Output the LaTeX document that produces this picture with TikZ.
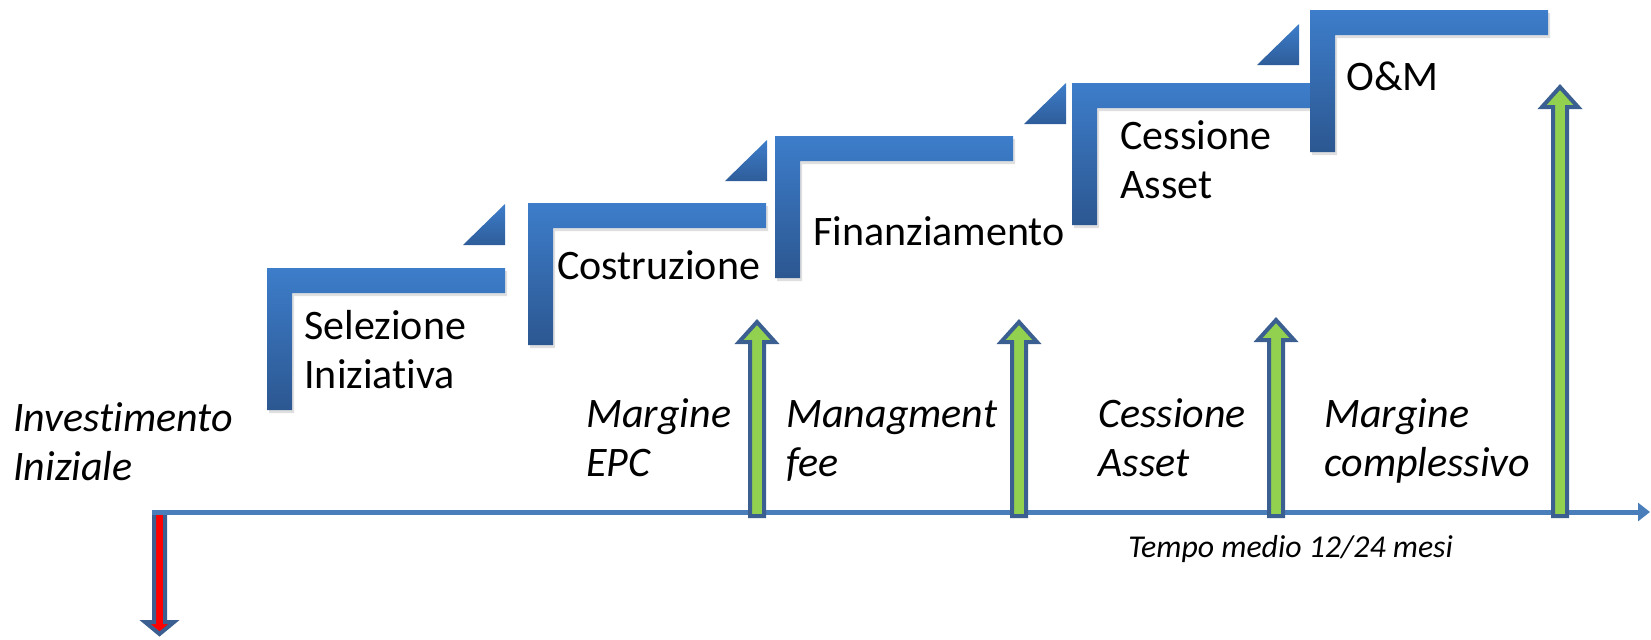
\documentclass[tikz,border=0pt]{standalone}
\usepackage{fontspec}
\setmainfont{Carlito}[Ligatures={NoCommon}]
\usetikzlibrary{arrows.meta,shadows}

\definecolor{barlight}{HTML}{3D7DCA}
\definecolor{bardark}{HTML}{2C5791}
\definecolor{axisblue}{HTML}{4A7EBB}
\definecolor{rimblue}{HTML}{3B5F90}
\definecolor{gaingreen}{HTML}{92D050}

\tikzset{
  stepbar/.style={top color=barlight, bottom color=bardark,
    drop shadow={opacity=0.25, shadow xshift=1pt, shadow yshift=-1.5pt}},
  stepflag/.style={top color=barlight, bottom color=bardark!85!barlight},
  timeaxis/.style={draw=axisblue, line width=2.5pt, -{Triangle[width=9pt,length=6pt]}},
  gainarrow/.style={draw=rimblue, fill=gaingreen, line width=2pt},
  lossarrow/.style={draw=rimblue, fill=red, line width=2pt},
  phase/.style={font=\fontsize{21}{24.5}\selectfont, align=left, anchor=base west, inner sep=0pt},
  cashflow/.style={phase, font=\fontsize{21}{24.5}\selectfont\itshape},
}

\begin{document}
\begin{tikzpicture}[x=0.5pt, y=-0.5pt]

	\useasboundingbox (0,0) rectangle (1651,639);

	% steps (left x, top y)
	\foreach \x/\y in {267/268, 528/203, 775/136, 1072/83, 1310/10}
	\path[stepbar] (\x,\y) -- ++(238,0) -- ++(0,25) -- ++(-213,0)
		-- ++(0,117) -- ++(-25,0) -- cycle;

	% small triangles (right x, bottom y)
	\foreach \x/\y in {505/245, 767/181, 1066/124, 1299/65}
	\path[stepflag] (\x,\y) -- ++(-42,0) -- ++(42,-41) -- cycle;

	% phase labels (base = last line)
	\node[phase] (sel) at (304,388) {Selezione\\Iniziativa};
	\node[phase] (cos) at (557,279) {Costruzione};
	\node[phase] (fin) at (813,245) {Finanziamento};
	\node[phase] (ces) at (1120,198) {Cessione\\Asset};
	\node[phase] (om)  at (1346,90)  {O\&M};

	% cash flow labels
	\node[cashflow] (inv)   at (13,480)   {Investimento\\Iniziale};
	\node[cashflow] (epc)   at (586,476)  {Margine\\EPC};
	\node[cashflow] (fee)   at (786,476)  {Managment\\fee};
	\node[cashflow] (asset) at (1098,476) {Cessione\\Asset};
	\node[cashflow] (tot)   at (1324,476) {Margine\\complessivo};
	\node[cashflow, font=\fontsize{15.9}{18}\selectfont\itshape] (tempo)
		at (1128,557) {Tempo medio 12/24 mesi};

	% initial investment (down)
	\path[lossarrow] (154,512) -- (154,622) -- (145,622) -- (159.5,634)
		-- (174,622) -- (165,622) -- (165,512) -- cycle;

	% time axis
	\coordinate (origin)  at (152,512);
	\coordinate (horizon) at (1650,512);
	\draw[timeaxis] (origin) -- (horizon);

	% returns (centre x, tip y)
	\foreach \x/\t in {757/322, 1019/322, 1276/320, 1560/87}
	\path[gainarrow] (\x-7,516) -- (\x-7,\t+20) -- (\x-18,\t+20) -- (\x,\t)
		-- (\x+18,\t+20) -- (\x+7,\t+20) -- (\x+7,516) -- cycle;

\end{tikzpicture}
\end{document}
